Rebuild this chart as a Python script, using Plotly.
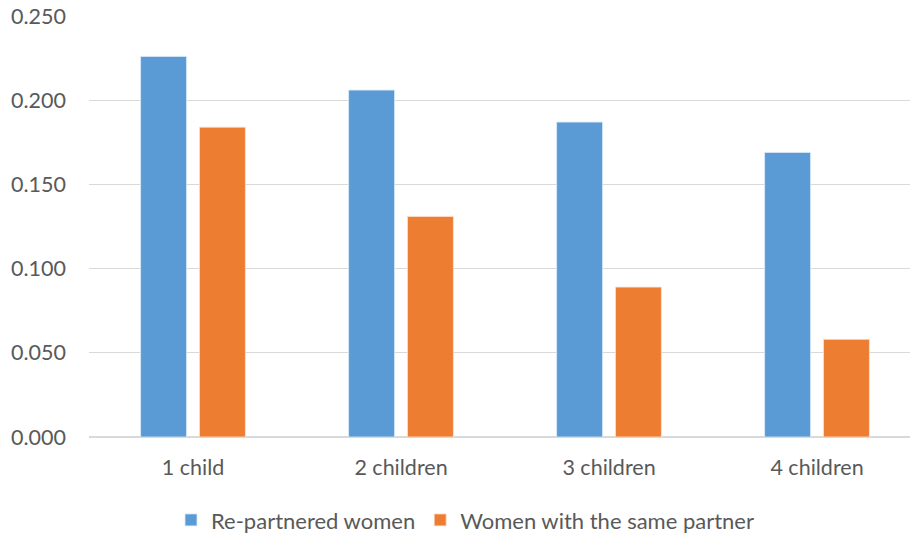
import plotly.graph_objects as go

categories = ["1 child", "2 children", "3 children", "4 children"]
repartnered = [0.226, 0.206, 0.187, 0.169]
same_partner = [0.184, 0.131, 0.089, 0.058]
series_names = ["Re-partnered women", "Women with the same partner"]
y_ticks = [0.0, 0.05, 0.10, 0.15, 0.20, 0.25]

BLUE = "#5B9BD5"
ORANGE = "#ED7D31"
TEXT = "#595959"
GRID = "#D9D9D9"
FONT = "Lato, 'Open Sans', sans-serif"

bar_w = 0.221

fig = go.Figure()
fig.add_trace(go.Bar(
    x=categories, y=repartnered, name=series_names[0],
    marker=dict(color=BLUE, line=dict(color="#DDEBF7", width=0.8)),
    width=bar_w, offset=-0.252,
))
fig.add_trace(go.Bar(
    x=categories, y=same_partner, name=series_names[1],
    marker=dict(color=ORANGE, line=dict(color="#FBE3D6", width=0.8)),
    width=bar_w, offset=0.031,
))

fig.update_layout(
    width=910, height=534,
    margin=dict(l=89, r=0, t=16, b=97, autoexpand=False),
    paper_bgcolor="white", plot_bgcolor="white",
    font=dict(family=FONT, size=21, color=TEXT),
    barmode="group",
    showlegend=True,
    legend=dict(
        orientation="h", xref="container", x=0.511, xanchor="center",
        yref="container", y=0.026, yanchor="middle",
        font=dict(size=22, color=TEXT), itemwidth=30, tracegroupgap=0,
    ),
    xaxis=dict(
        type="category", range=[-0.5, 3.447], automargin=False,
        showgrid=False, showline=False, zeroline=False,
        ticks="", ticklabelstandoff=15,
        tickfont=dict(size=21.5, color=TEXT),
    ),
    yaxis=dict(
        range=[0, 0.25], tickvals=y_ticks, tickformat=".3f", automargin=False,
        showgrid=True, gridcolor=GRID, gridwidth=1.3,
        zeroline=True, zerolinecolor=GRID, zerolinewidth=1.6,
        showline=False, ticks="", ticklabelstandoff=22,
        tickfont=dict(size=21.5, color=TEXT),
    ),
)

fig.write_html("out.html")
